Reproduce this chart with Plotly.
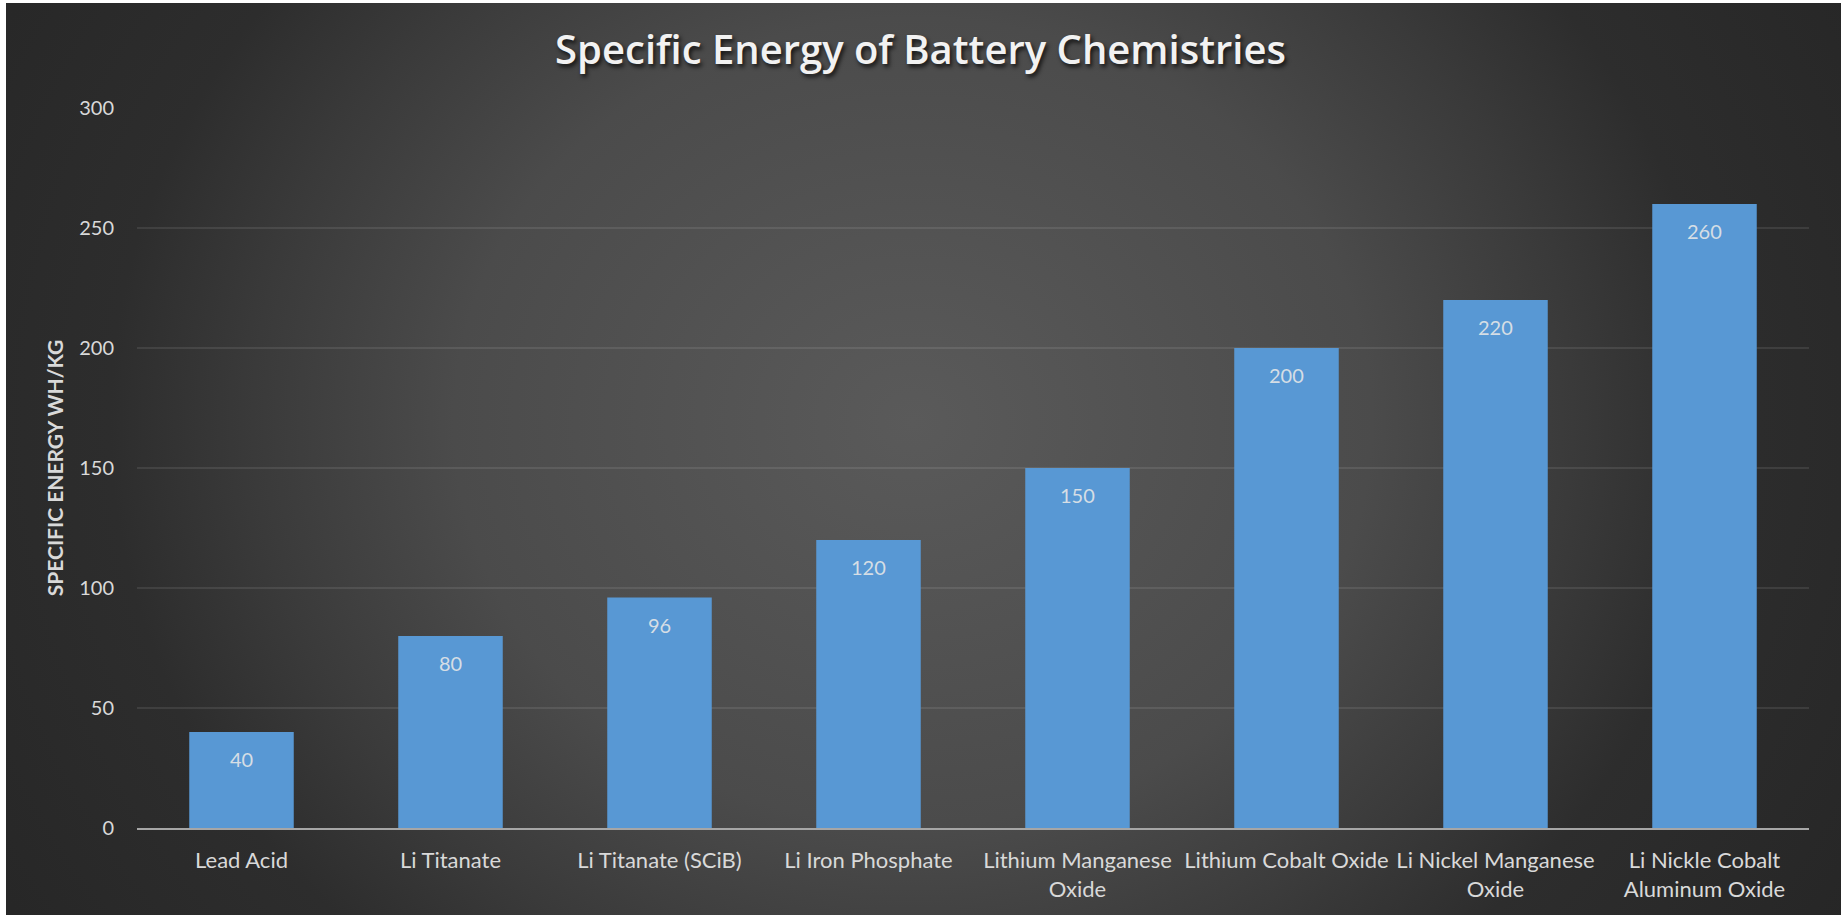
import base64
import plotly.graph_objects as go

# Battery chemistries and their specific energy (Wh/kg)
categories = [
    "Lead Acid",
    "Li Titanate",
    "Li Titanate (SCiB)",
    "Li Iron Phosphate",
    "Lithium Manganese<br>Oxide",
    "Lithium Cobalt Oxide",
    "Li Nickel Manganese<br>Oxide",
    "Li Nickle Cobalt<br>Aluminum Oxide",
]
specific_energy = [40, 80, 96, 120, 150, 200, 220, 260]
y_ticks = [0, 50, 100, 150, 200, 250, 300]

W, H = 1841, 915
M_L, M_R, M_T, M_B = 137, 32, 108, 87
PLOT_W = W - M_L - M_R
PLOT_H = H - M_T - M_B

FONT = "Lato, 'Open Sans', sans-serif"
TEXT = "#d9d9d9"

# Dark radial backdrop, lighter in the middle
bg_svg = f"""<svg xmlns="http://www.w3.org/2000/svg" width="{W}" height="{H}" viewBox="0 0 {W} {H}" preserveAspectRatio="none">
<defs>
<radialGradient id="g" gradientUnits="userSpaceOnUse" cx="910" cy="420" r="1104"
 gradientTransform="translate(910 420) scale(1 0.88) translate(-910 -420)">
<stop offset="0" stop-color="#5a5a5a"/>
<stop offset="0.417" stop-color="#4b4b4b"/>
<stop offset="0.6" stop-color="#3a3a3a"/>
<stop offset="0.73" stop-color="#2d2d2d"/>
<stop offset="1" stop-color="#262626"/>
</radialGradient>
</defs>
<rect x="0" y="0" width="{W}" height="{H}" fill="url(#g)"/>
</svg>"""
bg_uri = "data:image/svg+xml;base64," + base64.b64encode(bg_svg.encode()).decode()

# backdrop spans the whole page except a thin white rim at the left/top
bx0, by0 = 6, 3
img_x = (bx0 - M_L) / PLOT_W
img_y = (H - M_B - by0) / PLOT_H
img_sx = (W - bx0) / PLOT_W
img_sy = (H - by0) / PLOT_H

fig = go.Figure()
fig.add_trace(
    go.Bar(
        x=categories,
        y=specific_energy,
        marker=dict(color="#5898d4", line=dict(width=0)),
        hoverinfo="x+y",
        showlegend=False,
    )
)

# value labels just inside the top of each bar
for cat, val in zip(categories, specific_energy):
    fig.add_annotation(
        x=cat,
        y=val,
        text=str(val),
        showarrow=False,
        yanchor="top",
        yshift=-13,
        font=dict(family=FONT, size=20, color="rgba(232,232,232,0.88)"),
    )

fig.update_layout(
    width=W,
    height=H,
    margin=dict(l=M_L, r=M_R, t=M_T, b=M_B, autoexpand=False),
    paper_bgcolor="#ffffff",
    plot_bgcolor="rgba(0,0,0,0)",
    bargap=0.5,
    title=dict(
        text="Specific Energy of Battery Chemistries",
        x=0.5,
        xref="container",
        xanchor="center",
        y=1 - 50 / H,
        yref="container",
        yanchor="middle",
        font=dict(
            family="'Open Sans', sans-serif",
            size=40,
            weight=600,
            color="#f2f2f2",
            shadow="2px 3px 4px rgba(0,0,0,0.75)",
        ),
    ),
    images=[
        dict(
            source=bg_uri,
            xref="paper",
            yref="paper",
            x=img_x,
            y=img_y,
            sizex=img_sx,
            sizey=img_sy,
            xanchor="left",
            yanchor="top",
            sizing="stretch",
            layer="below",
        )
    ],
    xaxis=dict(
        type="category",
        showgrid=False,
        showline=True,
        linecolor="#a6a6a6",
        linewidth=2,
        ticks="",
        ticklabelstandoff=12,
        tickfont=dict(family=FONT, size=22, color=TEXT),
        fixedrange=True,
    ),
    yaxis=dict(
        range=[0, 300],
        tickvals=y_ticks,
        showgrid=True,
        gridcolor="rgba(255,255,255,0.09)",
        gridwidth=2,
        zeroline=False,
        showline=False,
        ticks="",
        ticklabelstandoff=22,
        tickfont=dict(family=FONT, size=20, color=TEXT),
        title=dict(
            text="<b>SPECIFIC ENERGY WH/KG</b>",
            font=dict(family=FONT, size=21, color=TEXT),
            standoff=9,
        ),
        fixedrange=True,
    ),
)

fig.write_html("out.html")
